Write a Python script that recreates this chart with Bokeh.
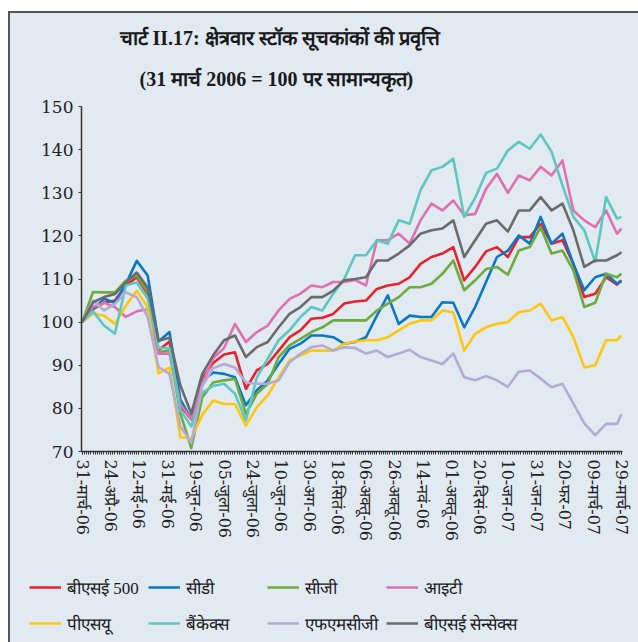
from bokeh.plotting import figure
from bokeh.layouts import column
from bokeh.models import FixedTicker, Legend, LegendItem, Range1d, Title
from bokeh.embed import file_html
from bokeh.resources import INLINE

# trading-day index of each sample (31 Mar 2006 = 0 ... 29 Mar 2007 = 247)
idx = list(range(0, 246, 5)) + [247]

tick_pos = list(range(0, 248, 13))
tick_labels = ["31-मार्च-06", "24-अप्रै-06", "12-मई-06", "31-मई-06", "19-जून-06",
               "05-जुला-06", "24-जुला-06", "10-जून-06", "30-अग-06", "18-सितं-06",
               "06-अक्तू-06", "26-अक्तू-06", "14-नवं-06", "01-अक्तू-06", "20-दिसं-06",
               "10-जन-07", "31-जन-07", "20-फर-07", "09-मार्च-07", "29-मार्च-07"]

bse500 = [100, 103, 104.5, 105, 108.5, 110.4, 106.5, 93.5, 95.5, 80.5, 77.5, 87, 90.5,
          92.5, 93, 84.5, 88.8, 90.3, 93.4, 96.5, 98.1, 100.8, 101, 101.9, 104.3, 104.8,
          105, 107.7, 108.5, 108.9, 110.4, 113.5, 115.1, 115.9, 117.4, 109.7, 112.8, 116.4,
          117.4, 115.1, 119.7, 119.7, 122.8, 118.2, 119, 113.5, 105.8, 106.6, 110.4, 108.7, 109.7]
cd = [100, 103, 105.4, 104.5, 108.8, 114.2, 110.8, 95.5, 97.7, 82, 77.5, 86.5, 88.3,
      88, 87.2, 80.7, 84.2, 86.5, 90.3, 93.8, 95, 96.9, 96.9, 96.5, 95, 95.4,
      96.5, 101.5, 106.2, 99.6, 101.5, 101.2, 101.2, 104.6, 104.5, 98.8, 103.5, 109.3,
      115.1, 116.6, 120.1, 118.2, 124.4, 118.2, 120.5, 113.5, 107.4, 110.4, 111.2, 108.9, 109.5]
cg = [100, 107, 106.9, 106.9, 109.6, 110.8, 107, 93, 93.5, 78.8, 70.8, 82.5, 86,
      86.5, 86.8, 78.7, 83.4, 85.7, 91.9, 94.6, 96.1, 97.7, 98.8, 100.4, 100.4, 100.4,
      100.4, 102.7, 104.3, 105.8, 108.1, 108.1, 108.9, 111.2, 114.3, 107.4, 109.7, 112.3,
      112.8, 111, 116.6, 117.4, 122, 115.9, 116.6, 112, 103.5, 104.5, 111.2, 110.4, 111.2]
it = [100, 103.5, 104.5, 103.5, 101.2, 102.5, 103, 92.7, 92.7, 81, 77.5, 85.8, 91.6,
      94, 99.6, 95.4, 97.7, 99.2, 102.7, 105.4, 106.6, 108.5, 108.1, 109.3, 109.3, 109.8,
      108.5, 119, 119, 120.5, 118.2, 123.6, 127.5, 125.9, 128.2, 124.8, 125.1, 130.9,
      134.4, 130, 134, 132.9, 136, 134, 137.5, 125.9, 123.6, 122, 125.9, 120.5, 121.7]
psu = [100, 102, 101.5, 99.6, 103.8, 107.3, 103.5, 88.1, 89.5, 73.3, 73, 78.5, 81.8,
       81, 81, 76, 80.3, 83, 87.2, 91.1, 92.3, 93.4, 93.4, 93.4, 95, 95.5,
       95.8, 95.8, 96.5, 98.1, 99.6, 100.4, 100.4, 102.7, 102.3, 93.4, 97.3, 98.8,
       99.6, 100, 102.3, 102.7, 104.3, 100.4, 101.2, 96.5, 89.5, 90, 95.8, 95.8, 96.9]
bankex = [100, 102.5, 99.2, 97.3, 108.5, 109.2, 105.5, 94, 94, 79.6, 75.8, 83.6, 85.2,
          85.7, 83.4, 77.2, 87.2, 91.5, 95.8, 98.1, 101.2, 103.5, 102.7, 106.6, 110, 115.5,
          115.5, 119, 118.2, 123.6, 122.8, 130.6, 135.2, 136, 137.9, 124.4, 128.8, 134.6,
          135.6, 139.8, 141.8, 140.2, 143.5, 139.5, 131.7, 124.4, 121.3, 114, 129, 124, 124.4]
fmcg = [100, 105, 102.7, 104.2, 106.9, 105.8, 101.2, 89.6, 88, 75.8, 72, 85.2, 89.3,
        90.3, 89.5, 86, 85.7, 85.7, 86.5, 90.7, 92.7, 94.2, 94.6, 93.4, 94.2, 94,
        92.7, 93.4, 91.9, 92.7, 93.6, 91.9, 91.1, 90.3, 92.7, 87.2, 86.5, 87.5,
        86.5, 85, 88.5, 88.8, 86.9, 84.9, 85.7, 81.1, 76.5, 73.8, 76.4, 76.4, 78.7]
sensex = [100, 104.6, 105.8, 106.5, 109.2, 111.5, 108, 95.7, 96.4, 85.3, 78.8, 88, 92.3,
          95.8, 96.9, 91.9, 94.2, 95.4, 98.8, 101.9, 103.5, 105.8, 105.8, 107.3, 109.7, 110,
          110.4, 114.3, 114.3, 115.9, 117.8, 120.5, 121.3, 121.7, 123.6, 115.1, 119, 122.8,
          123.6, 121, 125.9, 125.9, 129, 125.9, 127.5, 121.3, 112.8, 114.3, 114.3, 115.5, 116.2]

series_names = ["बीएसई 500", "सीडी", "सीजी", "आइटी", "पीएसयू", "बैंकेक्स", "एफएमसीजी", "बीएसई सेन्सेक्स"]
series_vals = [bse500, cd, cg, it, psu, bankex, fmcg, sensex]
colors = ["#e8212e", "#0a78c2", "#6cab3c", "#dd72ad", "#fec70d", "#5ec7bf", "#b3abd6", "#6a6b6d"]

BG = "#e1e9f1"
SERIF = "DejaVu Serif"
TSERIF = "Liberation Serif"

W = 628
p = figure(width=W, height=547, output_backend="svg", toolbar_location=None,
           x_range=Range1d(-0.3, 247.5), y_range=Range1d(70, 150),
           background_fill_color=BG, border_fill_color=BG,
           min_border_left=71, min_border_right=16, min_border_top=93, min_border_bottom=109)
p.frame_align = False
p.outline_line_color = None
p.xgrid.visible = False
p.ygrid.visible = False

for vals, col in zip(series_vals, colors):
    p.line(idx, vals, line_color=col, line_width=2.6, line_join="round")

# axes
xa = p.xaxis[0]
xa.ticker = FixedTicker(ticks=tick_pos, minor_ticks=list(range(248)))
xa.major_label_overrides = {t: lab for t, lab in zip(tick_pos, tick_labels)}
xa.major_label_orientation = "vertical"
xa.major_label_text_font = SERIF
xa.major_label_text_font_size = "16px"
xa.major_label_text_color = "#222222"
xa.major_label_standoff = 5
xa.axis_line_color = "#333333"
xa.axis_line_width = 1.5
xa.major_tick_in = 0
xa.major_tick_out = 3
xa.minor_tick_in = 0
xa.minor_tick_out = 3
xa.major_tick_line_color = "#333333"
xa.minor_tick_line_color = "#333333"

ya = p.yaxis[0]
ya.ticker = FixedTicker(ticks=[70, 80, 90, 100, 110, 120, 130, 140, 150])
ya.major_label_text_font = SERIF
ya.major_label_text_font_size = "17px"
ya.major_label_text_color = "#222222"
ya.major_label_standoff = 5
ya.axis_line_color = "#333333"
ya.axis_line_width = 1.5
ya.major_tick_in = 0
ya.major_tick_out = 3
ya.minor_tick_line_color = None
ya.major_tick_line_color = "#333333"

# title (two lines)
t2 = Title(text="(31 मार्च 2006 = 100 पर सामान्यकृत)", align="left", offset=58,
           text_font=TSERIF, text_font_size="20px", text_font_style="bold",
           text_color="#1a1a1a", standoff=34)
t1 = Title(text="चार्ट II.17: क्षेत्रवार स्टॉक सूचकांकों की प्रवृत्ति", align="left", offset=38,
           text_font=TSERIF, text_font_size="20px", text_font_style="bold",
           text_color="#1a1a1a", standoff=0)
p.add_layout(t2, "above")
p.add_layout(t1, "above")

# legend strip below the chart
q = figure(width=W, height=82, output_backend="svg", toolbar_location=None,
           x_range=Range1d(0, 10), y_range=Range1d(0, 10),
           x_axis_type=None, y_axis_type=None,
           background_fill_color=BG, border_fill_color=BG,
           min_border_left=0, min_border_right=0, min_border_top=0, min_border_bottom=0)
q.frame_align = False
q.outline_line_color = None
q.xgrid.visible = False
q.ygrid.visible = False
keys = [q.line(x=[-5, -4], y=[-5, -5], line_color=col, line_width=2.6) for col in colors]

legend = Legend(items=[LegendItem(label=n, renderers=[r]) for n, r in zip(series_names, keys)],
                location=(19, 4), orientation="horizontal", ncols=4,
                glyph_width=32, glyph_height=30, label_height=30, label_width=75,
                label_standoff=6, spacing=6, padding=0, margin=0,
                border_line_alpha=0, background_fill_alpha=0,
                label_text_font=TSERIF, label_text_font_size="17px", label_text_color="#1a1a1a")
q.add_layout(legend, "center")

page = column(p, q, spacing=0)
page.styles = {"border-top": "2px solid #555555", "border-left": "2px solid #555555",
               "margin-top": "11px", "margin-left": "8px", "background-color": BG}

open("out.html", "w").write(file_html(page, INLINE))
